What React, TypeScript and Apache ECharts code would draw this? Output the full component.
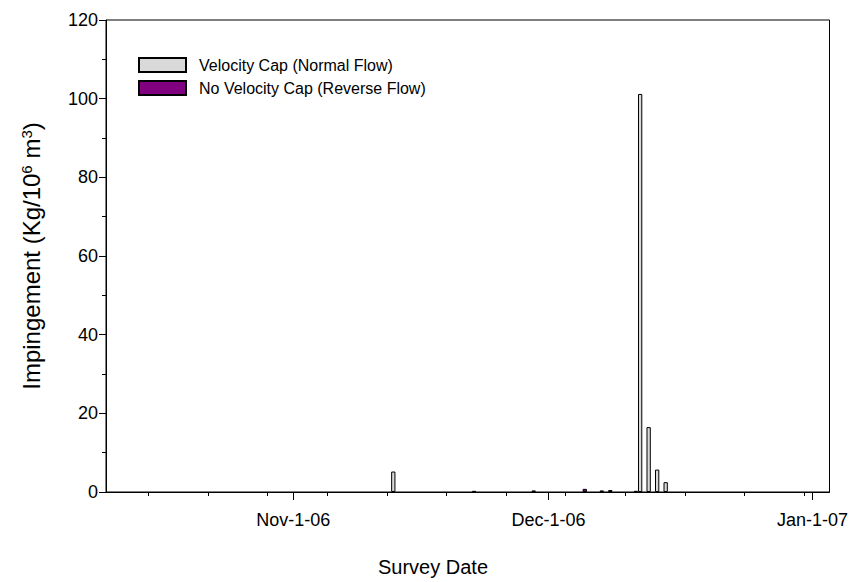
import React, { useEffect, useRef } from "react";
import * as echarts from "echarts";

const grayName = "Velocity Cap (Normal Flow)";
const purpleName = "No Velocity Cap (Reverse Flow)";

// Survey dates and impingement values (Kg/10^6 m^3)
const grayDates = ["2006-11-12", "2006-12-11", "2006-12-12", "2006-12-13", "2006-12-14"];
const grayValues = [5.2, 101.2, 16.5, 5.7, 2.5];

const purpleDates = ["2006-11-22", "2006-11-29", "2006-12-05", "2006-12-07", "2006-12-08", "2006-12-11"];
const purpleValues = [0.3, 0.4, 0.8, 0.4, 0.5, 0.3];

// Axis settings
const axisStart = "2006-10-10";
const axisEnd = "2007-01-03";
const monthTicks = ["2006-11-01", "2006-12-01", "2007-01-01"];
const weekTicks = [
  "2006-10-15", "2006-10-22", "2006-10-29", "2006-11-05", "2006-11-12", "2006-11-19",
  "2006-11-26", "2006-12-03", "2006-12-10", "2006-12-17", "2006-12-24", "2006-12-31",
];
const yTicks = [0, 20, 40, 60, 80, 100, 120];

const MONTHS = ["Jan", "Feb", "Mar", "Apr", "May", "Jun", "Jul", "Aug", "Sep", "Oct", "Nov", "Dec"];

const toTime = (s: string, hour = 0) => {
  const [y, m, d] = s.split("-").map(Number);
  return new Date(y, m - 1, d, hour).getTime();
};

const FONT = "'Liberation Sans', Arial, Helvetica, sans-serif";

export default function App() {
  const ref = useRef<HTMLDivElement>(null);

  useEffect(() => {
    if (!ref.current) return;
    const chart = echarts.init(ref.current, undefined, { renderer: "svg" });
    const min = toTime(axisStart);
    const max = toTime(axisEnd);
    const fmt = (v: number) => {
      const d = new Date(v);
      return `${MONTHS[d.getMonth()]}-${d.getDate()}-${String(d.getFullYear() % 100).padStart(2, "0")}`;
    };
    const option: any = {
      animation: false,
      grid: {
        left: 106,
        right: 19,
        top: 20,
        bottom: 90,
        show: true,
        borderColor: "#000",
        borderWidth: 1,
        backgroundColor: "transparent",
      },
      legend: {
        orient: "vertical",
        left: 133,
        top: 52,
        itemWidth: 47,
        itemHeight: 14,
        itemGap: 7,
        icon: "rect",
        data: [grayName, purpleName],
        textStyle: { fontFamily: FONT, fontSize: 16, color: "#000", padding: [0, 0, 0, 8] },
      },
      xAxis: [
        {
          type: "value",
          min,
          max,
          scale: true,
          axisLine: { show: true, onZero: false, lineStyle: { color: "#000", width: 1 } },
          axisTick: {
            show: true,
            customValues: monthTicks.map((s) => toTime(s)),
            length: 8,
            lineStyle: { color: "#000" },
          },
          axisLabel: {
            customValues: monthTicks.map((s) => toTime(s)),
            formatter: fmt,
            fontFamily: FONT,
            fontSize: 18,
            color: "#000",
            margin: 19,
          },
          splitLine: { show: false },
        },
        {
          type: "value",
          min,
          max,
          scale: true,
          position: "bottom",
          axisLine: { show: false, onZero: false },
          axisTick: {
            show: true,
            customValues: weekTicks.map((s) => toTime(s)),
            length: 4,
            lineStyle: { color: "#000" },
          },
          axisLabel: { show: false },
          splitLine: { show: false },
        },
      ],
      yAxis: {
        type: "value",
        min: yTicks[0],
        max: yTicks[yTicks.length - 1],
        interval: 20,
        axisLine: { show: true, lineStyle: { color: "#000" } },
        axisTick: { show: true, length: 7, lineStyle: { color: "#000" } },
        minorTick: { show: true, splitNumber: 2, length: 4, lineStyle: { color: "#000" } },
        axisLabel: { fontFamily: FONT, fontSize: 18, color: "#000", margin: 8 },
        splitLine: { show: false },
        name: "Impingement (Kg/10{sup|6} m{sup|3})",
        nameLocation: "middle",
        nameGap: 63,
        nameTextStyle: {
          fontFamily: FONT,
          fontSize: 24,
          color: "#000",
          rich: {
            sup: { fontFamily: FONT, fontSize: 15, color: "#000", verticalAlign: "top", lineHeight: 14 },
          },
        },
      },
      graphic: [
        {
          type: "text",
          x: 433,
          y: 567,
          style: {
            text: "Survey Date",
            fontFamily: FONT,
            fontSize: 20,
            fill: "#000",
            textAlign: "center",
            textVerticalAlign: "middle",
          },
        },
      ],
      series: [
        {
          name: purpleName,
          type: "bar",
          xAxisIndex: 0,
          barWidth: 4.3,
          barGap: "0%",
          data: purpleDates.map((d, i) => [toTime(d, 12), purpleValues[i]]),
          itemStyle: { color: "#800080", borderColor: "#000", borderWidth: 1 },
        },
        {
          name: grayName,
          type: "bar",
          xAxisIndex: 0,
          barWidth: 4.3,
          barGap: "0%",
          data: grayDates.map((d, i) => [toTime(d, 12), grayValues[i]]),
          itemStyle: { color: "#d9d9d9", borderColor: "#000", borderWidth: 1 },
        },
      ],
    };
    chart.setOption(option);
    return () => chart.dispose();
  }, []);

  return (
    <div
      ref={ref}
      style={{ position: "fixed", left: 0, top: 0, width: 851, height: 582, background: "#fff" }}
    />
  );
}
